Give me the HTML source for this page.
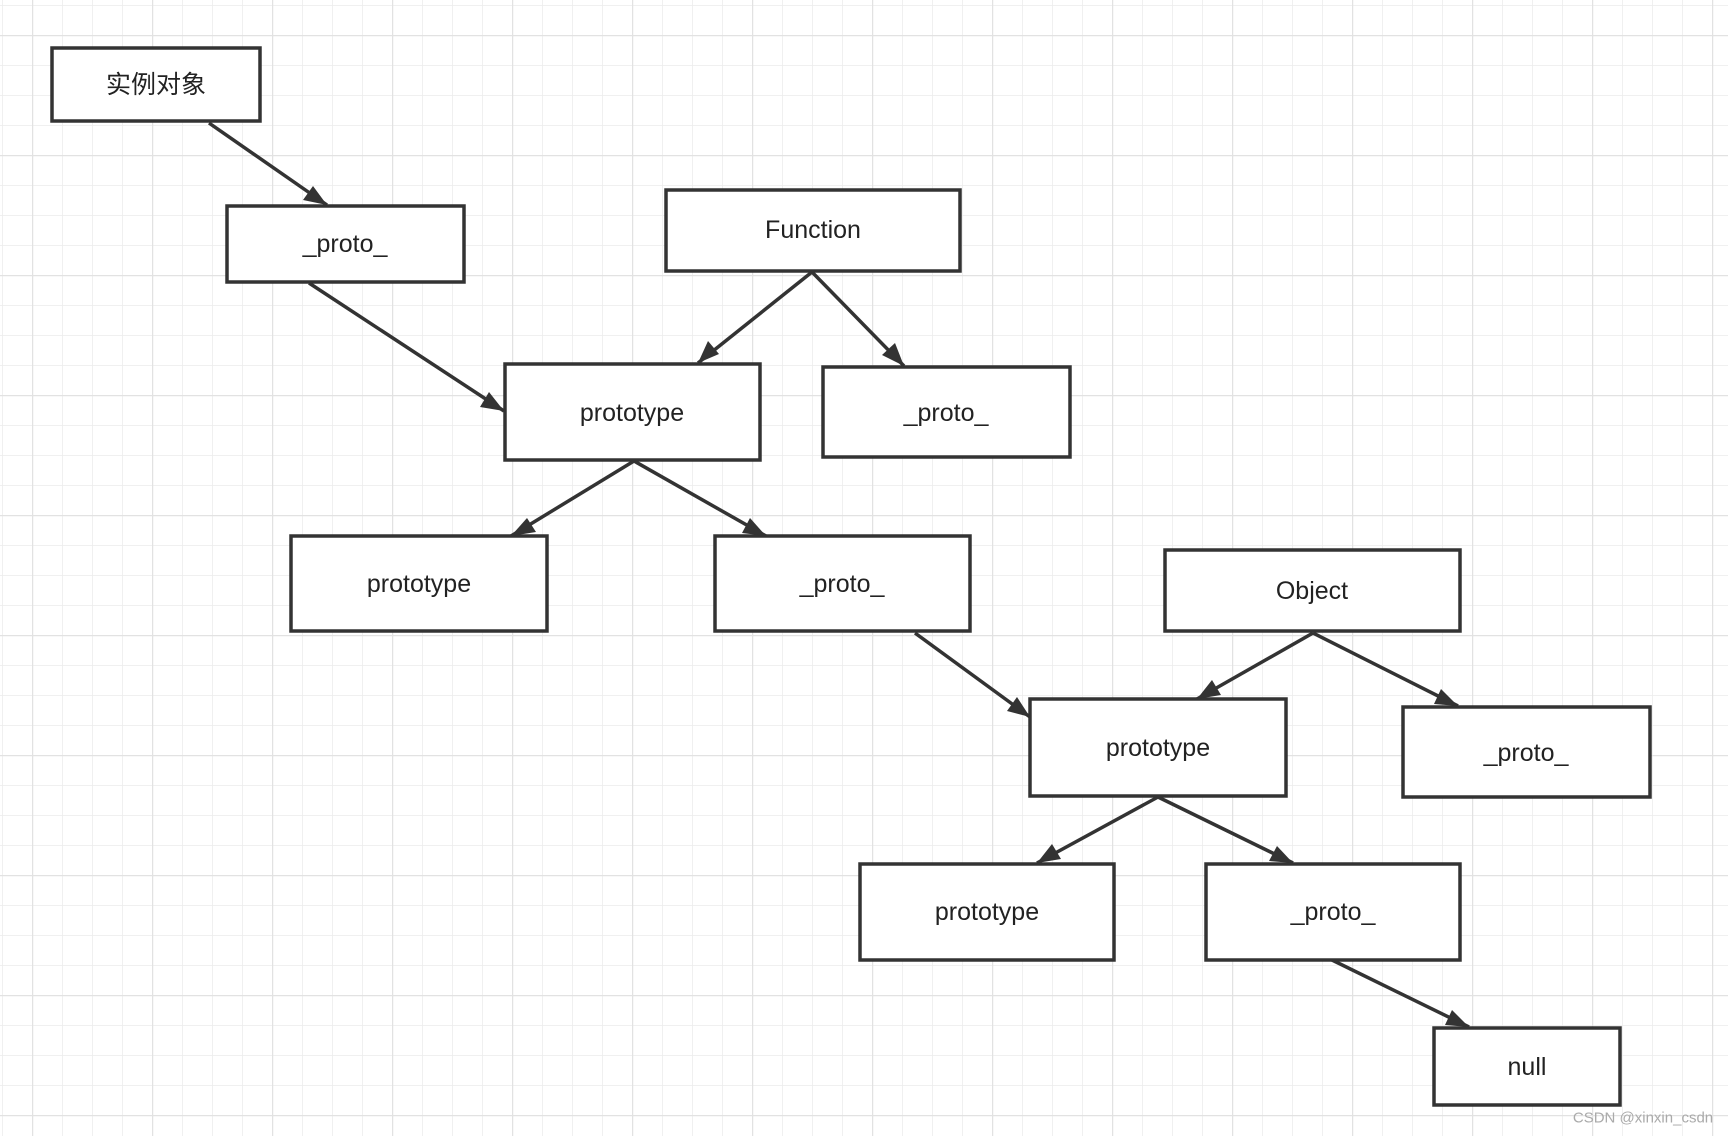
<!DOCTYPE html>
<html><head><meta charset="utf-8"><style>
html,body{margin:0;padding:0;background:#fff;}
svg{display:block;}
text{font-family:"Liberation Sans","Noto Sans CJK SC",sans-serif;font-size:25px;fill:#222;text-anchor:middle;dominant-baseline:central;}
</style></head><body>
<svg width="1728" height="1136" viewBox="0 0 1728 1136" xmlns="http://www.w3.org/2000/svg">
<defs>
<pattern id="minor" x="2" y="5" width="30" height="30" patternUnits="userSpaceOnUse">
<path d="M0 0V30M0 0H30" stroke="#ececec" stroke-width="1.5" fill="none"/>
</pattern>
<pattern id="major" x="32" y="35" width="120" height="120" patternUnits="userSpaceOnUse">
<path d="M0 0V120M0 0H120" stroke="#e2e2e2" stroke-width="2.5" fill="none"/>
</pattern>
<marker id="ar" viewBox="0 0 10 10" refX="10" refY="5" markerWidth="8" markerHeight="8" markerUnits="userSpaceOnUse" orient="auto" style="overflow:visible">
<path d="M-22 -9 L2 5 L-22 19 L-16 5 Z" fill="#333" transform="translate(0,0)"/>
</marker>
</defs>
<rect width="1728" height="1136" fill="url(#minor)"/>
<rect width="1728" height="1136" fill="url(#major)"/>
<g stroke="#333" stroke-width="3.5" fill="none">
<line x1="209" y1="123" x2="327" y2="205"/>
<line x1="309" y1="283" x2="504" y2="411"/>
<line x1="812" y1="272" x2="698" y2="363"/>
<line x1="812" y1="272" x2="904" y2="366"/>
<line x1="634" y1="461" x2="511" y2="536"/>
<line x1="634" y1="461" x2="766" y2="536"/>
<line x1="915" y1="633" x2="1030" y2="717"/>
<line x1="1313" y1="633" x2="1197" y2="699"/>
<line x1="1313" y1="633" x2="1458" y2="706"/>
<line x1="1158" y1="797" x2="1037" y2="863"/>
<line x1="1158" y1="797" x2="1293" y2="863"/>
<line x1="1332" y1="960" x2="1469" y2="1027"/>
</g>
<g fill="#333">
<script>/* none */</script>
</g>
<g id="heads" fill="#333"></g>
<g fill="#fff" stroke="#333" stroke-width="3.5">
<rect x="52" y="48" width="208" height="73"/>
<rect x="227" y="206" width="237" height="76"/>
<rect x="666" y="190" width="294" height="81"/>
<rect x="505" y="364" width="255" height="96"/>
<rect x="823" y="367" width="247" height="90"/>
<rect x="291" y="536" width="256" height="95"/>
<rect x="715" y="536" width="255" height="95"/>
<rect x="1165" y="550" width="295" height="81"/>
<rect x="1030" y="699" width="256" height="97"/>
<rect x="1403" y="707" width="247" height="90"/>
<rect x="860" y="864" width="254" height="96"/>
<rect x="1206" y="864" width="254" height="96"/>
<rect x="1434" y="1028" width="186" height="77"/>
</g>
<g fill="#333">
<polygon points="327,205 303,200 313,186"/>
<polygon points="504,411 480,407 489,392"/>
<polygon points="698,363 708,341 719,354"/>
<polygon points="904,366 882,355 895,343"/>
<polygon points="511,536 527,518 536,532"/>
<polygon points="766,536 742,533 750,518"/>
<polygon points="1030,717 1007,711 1017,697"/>
<polygon points="1197,699 1212,680 1221,695"/>
<polygon points="1458,706 1434,704 1441,689"/>
<polygon points="1037,863 1052,844 1061,859"/>
<polygon points="1293,863 1269,861 1277,846"/>
<polygon points="1469,1027 1445,1025 1452,1010"/>
</g>
<text x="156" y="85">实例对象</text>
<text x="345" y="244">_proto_</text>
<text x="813" y="230">Function</text>
<text x="632" y="413">prototype</text>
<text x="946" y="413">_proto_</text>
<text x="419" y="584">prototype</text>
<text x="842" y="584">_proto_</text>
<text x="1312" y="591">Object</text>
<text x="1158" y="748">prototype</text>
<text x="1526" y="753">_proto_</text>
<text x="987" y="912">prototype</text>
<text x="1333" y="912">_proto_</text>
<text x="1527" y="1067">null</text>
<text x="1643" y="1118" style="font-size:15px;fill:#aaa;">CSDN @xinxin_csdn</text>
</svg>
</body></html>
